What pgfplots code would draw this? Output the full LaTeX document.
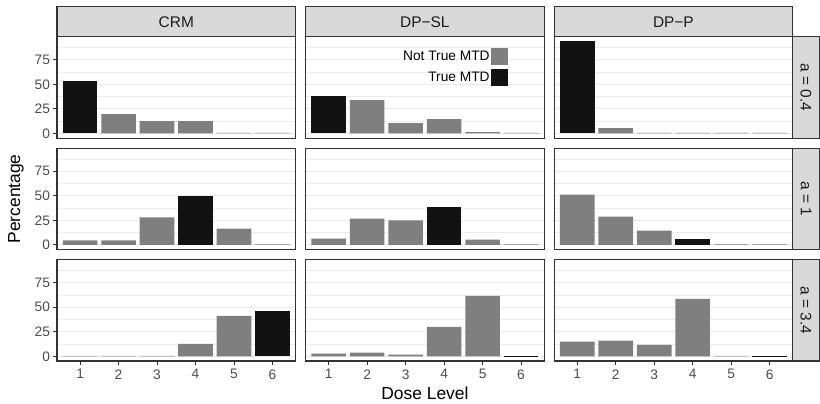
\documentclass[border=0pt]{standalone}
\usepackage{fontspec}
\setmainfont{Liberation Sans}
\usepackage{pgfplots}
\pgfplotsset{compat=1.18}
\definecolor{grey10}{HTML}{1A1A1A}
\definecolor{grey20}{HTML}{333333}
\definecolor{grey30}{HTML}{4D4D4D}
\definecolor{grey85}{HTML}{D9D9D9}
\definecolor{grey92}{HTML}{EBEBEB}
\definecolor{barGrey}{HTML}{7F7F7F}
\definecolor{barBlack}{HTML}{121212}
\pgfplotsset{
  panel/.style={
    scale only axis, width=238.57bp, height=101.4bp, anchor=south west,
    xmin=0.4, xmax=6.6, ymin=-4.69, ymax=98.4,
    axis line style={draw=grey20, line width=1.1bp},
    ytick={0,25,50,75}, minor ytick={12.5,37.5,62.5,87.5},
    ymajorgrids, yminorgrids,
    major grid style={draw=grey92, line width=1.0bp},
    minor grid style={draw=grey92, line width=0.6bp},
    xtick=\empty,
    tick align=outside, major tick length=3.8bp, minor tick length=0pt,
    tick style={draw=grey20, line width=0.9bp},
    xtick pos=bottom, ytick pos=left,
    /pgf/number format/assume math mode=true,
    yticklabel style={font=\fontsize{13.8}{16}\selectfont, text=grey30, anchor=east, inner sep=0pt, xshift=-3bp},
    xticklabel style={font=\fontsize{13.8}{16}\selectfont, text=grey30, anchor=north, inner sep=0pt, yshift=-4.5bp},
    yticklabels={}, ytick style={draw=none},
  },
  leftcol/.style={yticklabels={0,25,50,75}, ytick style={draw=grey20, line width=0.9bp}},
  bottomrow/.style={xtick={1,2,3,4,5,6}},
  gbar/.style={ybar, bar width=0.9, bar shift=0pt, fill=barGrey, draw=none},
  kbar/.style={ybar, bar width=0.9, bar shift=0pt, fill=barBlack, draw=none},
}
\begin{document}
\begin{tikzpicture}
\path[use as bounding box] (0,0) rectangle (820bp,404bp);
% ---------- row 1: a = 0.4 (true MTD = 1)
\begin{axis}[panel, leftcol, at={(57bp,265.9bp)}]
\addplot[gbar] coordinates {(2,19.6) (3,12.5) (4,12.5) (5,0.6) (6,0.6)};
\addplot[kbar] coordinates {(1,53.0)};
\end{axis}
\begin{axis}[panel, at={(305.57bp,265.9bp)},
  legend plot pos=right, legend cell align=right,
  legend image code/.code={\fill (0bp,-8.3bp) rectangle (16.6bp,8.3bp);},
  legend style={at={(0.8484,0.8886)}, anchor=north east, draw=none, fill=none,
    inner sep=0pt, row sep=4.2bp, column sep=0pt,
    font=\fontsize{13.8}{16}\selectfont, text=black,
    nodes={inner sep=1.5bp}}]
\addplot[gbar] coordinates {(2,33.8) (3,10.5) (4,14.5) (5,1.4) (6,0.6)};
\addlegendentry{Not True MTD}
\addplot[kbar] coordinates {(1,37.8)};
\addlegendentry{True MTD}
\end{axis}
\begin{axis}[panel, at={(554.14bp,265.9bp)}]
\addplot[gbar] coordinates {(2,5.4) (3,0.6) (4,0.6) (5,0.6) (6,0.6)};
\addplot[kbar] coordinates {(1,93.7)};
\end{axis}
% ---------- row 2: a = 1 (true MTD = 4)
\begin{axis}[panel, leftcol, at={(57bp,154.5bp)}]
\addplot[gbar] coordinates {(1,4.7) (2,4.7) (3,28.0) (5,16.6) (6,0.6)};
\addplot[kbar] coordinates {(4,49.3)};
\end{axis}
\begin{axis}[panel, at={(305.57bp,154.5bp)}]
\addplot[gbar] coordinates {(1,6.4) (2,26.7) (3,25.0) (5,5.4) (6,0.6)};
\addplot[kbar] coordinates {(4,38.9)};
\end{axis}
\begin{axis}[panel, at={(554.14bp,154.5bp)}]
\addplot[gbar] coordinates {(1,51.0) (2,28.7) (3,14.5) (5,0.6) (6,0.6)};
\addplot[kbar] coordinates {(4,6.4)};
\end{axis}
% ---------- row 3: a = 3.4 (true MTD = 6)
\begin{axis}[panel, leftcol, bottomrow, at={(57bp,43bp)}]
\addplot[gbar] coordinates {(1,0.6) (2,0.6) (3,0.6) (4,12.8) (5,41.2)};
\addplot[kbar] coordinates {(6,46.3)};
\end{axis}
\begin{axis}[panel, bottomrow, at={(305.57bp,43bp)}]
\addplot[gbar] coordinates {(1,2.7) (2,3.7) (3,1.7) (4,30.1) (5,61.5)};
\addplot[kbar] coordinates {(6,0.6)};
\end{axis}
\begin{axis}[panel, bottomrow, at={(554.14bp,43bp)}]
\addplot[gbar] coordinates {(1,14.9) (2,15.9) (3,11.8) (4,58.4) (5,0.6)};
\addplot[kbar] coordinates {(6,0.6)};
\end{axis}
% ---------- strips
\begin{scope}[every node/.style={font=\fontsize{15.5}{18}\selectfont, text=grey10}]
\filldraw[fill=grey85, draw=grey20, line width=1.1bp] (57bp,367.3bp) rectangle (295.57bp,397.3bp);
\filldraw[fill=grey85, draw=grey20, line width=1.1bp] (305.57bp,367.3bp) rectangle (544.14bp,397.3bp);
\filldraw[fill=grey85, draw=grey20, line width=1.1bp] (554.14bp,367.3bp) rectangle (792.71bp,397.3bp);
\node at (176.3bp,382.3bp) {CRM};
\node at (424.9bp,382.3bp) {DP−SL};
\node at (673.4bp,382.3bp) {DP−P};
\filldraw[fill=grey85, draw=grey20, line width=1.1bp] (792.71bp,265.9bp) rectangle (819.3bp,367.3bp);
\filldraw[fill=grey85, draw=grey20, line width=1.1bp] (792.71bp,154.5bp) rectangle (819.3bp,255.9bp);
\filldraw[fill=grey85, draw=grey20, line width=1.1bp] (792.71bp,43bp) rectangle (819.3bp,144.4bp);
\node[rotate=-90] at (806bp,316.6bp) {a = 0.4};
\node[rotate=-90] at (806bp,205.2bp) {a = 1};
\node[rotate=-90] at (806bp,93.7bp) {a = 3.4};
\end{scope}
% ---------- axis titles
\node[rotate=90, font=\fontsize{17.5}{20}\selectfont] at (16bp,205.1bp) {Percentage};
\node[font=\fontsize{17.5}{20}\selectfont] at (424.9bp,11bp) {Dose Level};
\end{tikzpicture}
\end{document}
